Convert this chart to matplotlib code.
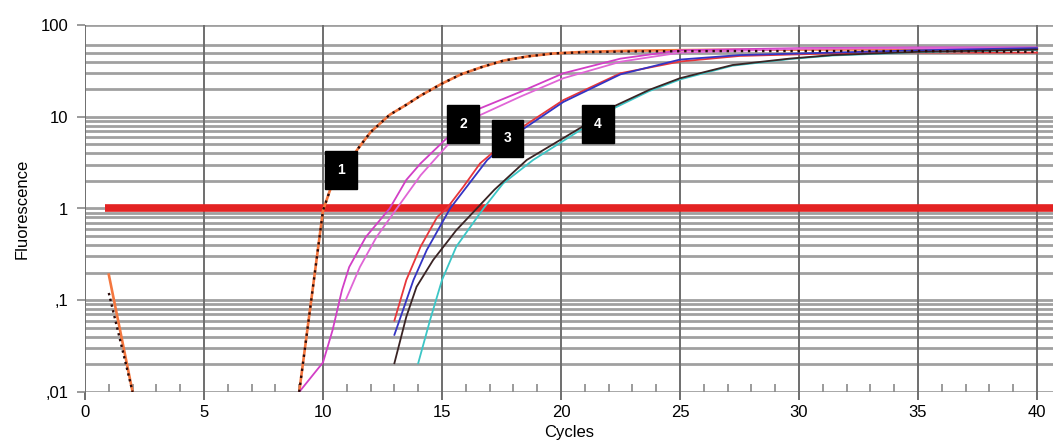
#!/usr/bin/env python3
"""
Real-time PCR amplification plot: fluorescence vs cycles, log scale.
"""
import numpy as np
import matplotlib
matplotlib.use("Agg")
import matplotlib.pyplot as plt
from matplotlib.ticker import FixedLocator, NullFormatter

plt.rcParams["font.family"] = ["Liberation Sans", "DejaVu Sans"]

# %% data
# run 1 (orange + black dotted replicate)
cyc_1 = [9, 10, 10.3, 11, 11.5, 12, 12.8, 13.5, 14.1, 15, 15.8, 16.7, 17.6, 18.6, 19.7, 21, 23, 26, 30, 35, 40]
fl_1a = [0.01, 0.95, 1.6, 3.0, 4.6, 6.8, 10.5, 13.5, 17, 23, 29, 35, 41, 45.5, 49, 51, 52.5, 53.5, 54, 54.5, 55]
fl_1b = [0.01, 0.95, 1.6, 3.0, 4.6, 6.8, 10.5, 13.5, 17, 23, 29, 35, 41, 45.5, 49, 50.5, 51.5, 52, 52, 52, 51]
# early baseline cycles of run 1
cyc_base = [1, 2]
fl_base_a = [0.19, 0.01]
fl_base_b = [0.12, 0.01]

# run 2 (two pink replicates)
cyc_2a = [9, 10, 10.4, 10.8, 11.1, 11.8, 12.8, 13.5, 14.1, 15, 16.45, 18.3, 20.1, 22.5, 25, 30, 35, 40]
fl_2a = [0.01, 0.021, 0.047, 0.13, 0.23, 0.49, 1.0, 2.05, 3.1, 5.2, 11.9, 18.7, 29.8, 43, 53, 56, 57, 57]
cyc_2b = [10.95, 11.55, 12.25, 13.1, 14.1, 15.2, 16.45, 18.3, 20.1, 22.5, 25, 30, 35, 40]
fl_2b = [0.1, 0.23, 0.49, 1.0, 2.3, 4.8, 10, 16.6, 26.3, 39.8, 50, 55, 56, 56]

# run 3 (red + blue replicates)
cyc_3a = [13, 13.5, 14.1, 14.8, 15.2, 15.9, 16.6, 17.1, 18.4, 20.1, 22.5, 25, 27.5, 31.4, 35, 40]
fl_3a = [0.06, 0.166, 0.384, 0.81, 1.0, 1.73, 3.1, 4.0, 7.8, 15.2, 29.8, 40, 46, 49, 50, 50]
cyc_3b = [13, 13.8, 14.36, 15.34, 16.9, 18.4, 20.1, 22.5, 25, 27.5, 31.4, 35, 40]
fl_3b = [0.042, 0.166, 0.353, 1.0, 3.38, 7.3, 14.5, 29, 42, 47, 50, 53, 56]

# run 4 (dark brown + cyan replicates)
cyc_4a = [13, 13.5, 13.93, 14.63, 15.6, 16.46, 17.2, 18.56, 20.9, 22.2, 23.7, 25, 27.2, 29.6, 31.4, 35, 40]
fl_4a = [0.0206, 0.066, 0.14, 0.275, 0.58, 1.0, 1.6, 3.38, 7.8, 12.9, 19.6, 26.3, 36.6, 43, 47, 51, 54]
cyc_4b = [14, 14.5, 15, 15.6, 16.74, 17.57, 18.83, 20.9, 22.2, 23.7, 25, 27.2, 29.6, 31.4, 35, 40]
fl_4b = [0.0206, 0.061, 0.166, 0.384, 1.0, 1.88, 3.38, 7.4, 12.3, 19, 25.5, 36, 42.5, 46.5, 50.5, 53.5]

threshold = 1.0
x_ticks = [0, 5, 10, 15, 20, 25, 30, 35, 40]
y_ticks = [0.01, 0.1, 1, 10, 100]
y_ticklabels = [",01", ",1", "1", "10", "100"]
run_labels = ["1", "2", "3", "4"]

# %% figure
W, H = 1053, 448
fg = plt.figure(figsize=(W / 100, H / 100), dpi=100)
ax = fg.add_axes([85 / W, (H - 392) / H, (W - 85) / W, (392 - 25) / H])
ax.set_yscale("log")
ax.set_xlim(0, (W - 85) / 23.8)
ax.set_ylim(0.01, 100)

for s in ax.spines.values():
    s.set_visible(False)

# horizontal grid (top decade has only 20..60 lines in the reference)
hlines = []
for dec in [0.01, 0.1, 1]:
    hlines += [dec * k for k in range(1, 10)]
hlines += [10, 20, 30, 40, 50, 60, 100]
for h in hlines:
    ax.axhline(h, color="#a0a0a0", lw=2.0, zorder=1)
for xv in x_ticks:
    ax.axvline(xv, color="#6e6e6e", lw=1.4, zorder=1.5)

# ticks
ax.xaxis.set_major_locator(FixedLocator(x_ticks))
ax.xaxis.set_minor_locator(FixedLocator([i for i in range(1, 41) if i % 5]))
ax.xaxis.set_minor_formatter(NullFormatter())
ax.tick_params(axis="x", which="major", direction="out", length=6, width=1.4,
               color="#6e6e6e", labelsize=12, pad=3)
ax.tick_params(axis="x", which="minor", direction="in", length=6, width=1.2,
               color="#8a8a8a")
ax.set_yticks(y_ticks)
ax.set_yticklabels(y_ticklabels)
ax.yaxis.set_minor_locator(FixedLocator([]))
ax.tick_params(axis="y", which="major", direction="out", length=6, width=1.2,
               color="#8a8a8a", labelsize=12, pad=6)

# threshold
ax.plot([0.85, 41], [threshold, threshold], color="#e32222", lw=5.5, zorder=3,
        solid_capstyle="butt")

# curves
lw = 1.3
ax.plot(cyc_base, fl_base_a, color="#f4773f", lw=lw + 0.6, zorder=4)
ax.plot(cyc_base, fl_base_b, color="#2a0a0a", lw=lw + 0.4, ls=(0, (1, 1.5)), zorder=5)
ax.plot(cyc_1, fl_1a, color="#f4773f", lw=lw + 0.6, zorder=4)
ax.plot(cyc_1, fl_1b, color="#2a0a0a", lw=lw + 0.4, ls=(0, (1, 2)), zorder=5)
ax.plot(cyc_2a, fl_2a, color="#d23fc6", lw=lw, zorder=4)
ax.plot(cyc_2b, fl_2b, color="#e066d6", lw=lw, zorder=4)
ax.plot(cyc_3a, fl_3a, color="#e8363a", lw=lw, zorder=4)
ax.plot(cyc_3b, fl_3b, color="#3434c4", lw=lw, zorder=4)
ax.plot(cyc_4b, fl_4b, color="#3cc6c6", lw=lw, zorder=4)
ax.plot(cyc_4a, fl_4a, color="#3a2424", lw=lw, zorder=4)

# run number boxes
for lab, (cx, cy) in zip(run_labels, [(10.76, 2.63), (15.88, 8.4), (17.75, 5.8), (21.55, 8.3)]):
    ax.text(cx, cy, lab, color="white", fontsize=10, fontweight="bold",
            ha="center", va="center", zorder=6,
            bbox=dict(boxstyle="square,pad=0.85", fc="black", ec="black"))

ax.set_xlabel("Cycles", fontsize=12, labelpad=4)
ax.set_ylabel("Fluorescence", fontsize=12, labelpad=8)

fg.savefig("out.png", dpi=100)
